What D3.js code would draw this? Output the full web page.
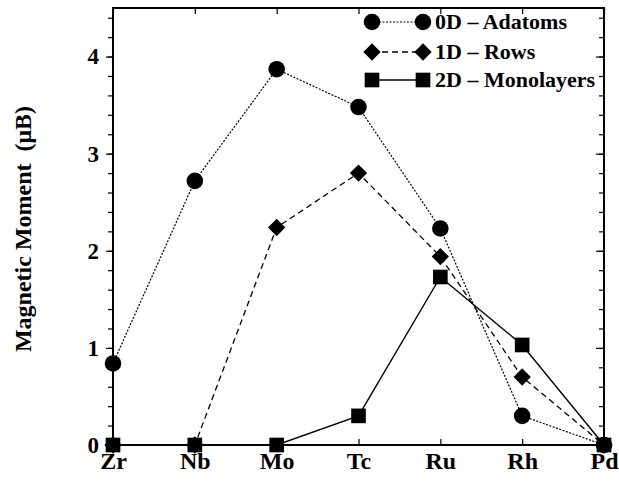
<!DOCTYPE html>
<html><head><meta charset="utf-8">
<script src="https://cdn.jsdelivr.net/npm/d3@7"></script>
<style>body{margin:0;background:#fff}svg{display:block}</style>
</head><body>
<script>
const categories = ["Zr","Nb","Mo","Tc","Ru","Rh","Pd"];
const adatoms = [0.84, 2.72, 3.87, 3.48, 2.23, 0.30, 0.0];
const rows = [0.0, 0.0, 2.24, 2.80, 1.94, 0.70, 0.0];
const monolayers = [0.0, 0.0, 0.0, 0.30, 1.73, 1.03, 0.0];
const yTicks = [0,1,2,3,4];
const seriesNames = ["0D \u2013 Adatoms","1D \u2013 Rows","2D \u2013 Monolayers"];

const W=619,H=482;
const L=113,R=604,T=8,B=445;
const svg=d3.select("body").append("svg").attr("width",W).attr("height",H);
const x=d3.scalePoint().domain(categories).range([L,R]);
const y=d3.scaleLinear().domain([0,4.5]).range([B,T]);
const font="'Liberation Serif','Times New Roman',serif";

const minor=d3.range(0,4.51,0.2);
svg.append("g").attr("transform",`translate(${L},0)`)
  .call(d3.axisLeft(y).tickValues(minor).tickSize(5).tickFormat(""))
  .call(g=>g.select(".domain").remove());
svg.append("g").attr("transform",`translate(${L},0)`)
  .call(d3.axisLeft(y).tickValues(yTicks).tickSize(7).tickPadding(7).tickFormat(d3.format("d")))
  .call(g=>g.select(".domain").remove())
  .call(g=>g.selectAll("text").attr("font-family",font).attr("font-weight","bold").attr("font-size",23).attr("fill","#000"));
svg.append("g").attr("transform",`translate(${R},0)`)
  .call(d3.axisLeft(y).tickValues(minor).tickSize(5).tickFormat(""))
  .call(g=>g.select(".domain").remove());
svg.append("g").attr("transform",`translate(${R},0)`)
  .call(d3.axisLeft(y).tickValues(yTicks).tickSize(8).tickFormat(""))
  .call(g=>g.select(".domain").remove());
svg.append("g").attr("transform",`translate(0,${B})`)
  .call(d3.axisTop(x).tickSize(6).tickFormat(""))
  .call(g=>g.select(".domain").remove());
svg.append("g").attr("transform",`translate(0,${B})`)
  .call(d3.axisBottom(x).tickSize(0).tickPadding(7))
  .call(g=>g.select(".domain").remove())
  .call(g=>g.selectAll("text").attr("font-family",font).attr("font-weight","bold").attr("font-size",24).attr("fill","#000"));
svg.append("g").attr("transform",`translate(0,${T})`)
  .call(d3.axisBottom(x).tickSize(6).tickFormat(""))
  .call(g=>g.select(".domain").remove());
svg.selectAll(".tick line").attr("stroke","#000").attr("stroke-width",1.2);

svg.append("rect").attr("x",L).attr("y",T).attr("width",R-L).attr("height",B-T)
  .attr("fill","none").attr("stroke","#000").attr("stroke-width",2);

svg.append("text").attr("transform",`translate(31,${229}) rotate(-90)`)
  .attr("text-anchor","middle").attr("font-family",font).attr("font-weight","bold").attr("font-size",24)
  .text("Magnetic Moment \u00a0(\u03bcB)");

const diamond={draw(ctx,size){const r=Math.sqrt(size)/Math.SQRT2;ctx.moveTo(0,-r);ctx.lineTo(r,0);ctx.lineTo(0,r);ctx.lineTo(-r,0);ctx.closePath();}};
const series=[
  {vals:adatoms,dash:"2,1.5",sym:d3.symbolCircle,size:215,w:1.2},
  {vals:rows,dash:"6,4",sym:diamond,size:150,w:1.3},
  {vals:monolayers,dash:null,sym:d3.symbolSquare,size:215,w:1.4}
];
const line=d3.line().x((d,i)=>x(categories[i])).y(d=>y(d));
series.forEach(s=>{
  svg.append("path").datum(s.vals).attr("d",line).attr("fill","none").attr("stroke","#000")
    .attr("stroke-width",s.w).attr("stroke-dasharray",s.dash);
});
series.forEach(s=>{
  svg.selectAll(null).data(s.vals).enter().append("path")
    .attr("transform",(d,i)=>`translate(${x(categories[i])},${y(d)})`)
    .attr("d",d3.symbol().type(s.sym).size(s.size)).attr("fill","#000");
});

const lg=svg.append("g");
const ly=[22,52,80];
series.forEach((s,i)=>{
  lg.append("line").attr("x1",372).attr("x2",423).attr("y1",ly[i]).attr("y2",ly[i])
    .attr("stroke","#000").attr("stroke-width",s.w).attr("stroke-dasharray",s.dash);
  [372,423].forEach(cx=>lg.append("path").attr("transform",`translate(${cx},${ly[i]})`)
    .attr("d",d3.symbol().type(s.sym).size(s.size)).attr("fill","#000"));
  lg.append("text").attr("x",435).attr("y",ly[i]+7).attr("font-family",font).attr("font-weight","bold")
    .attr("font-size",22).text(seriesNames[i]);
});
</script>
</body></html>
